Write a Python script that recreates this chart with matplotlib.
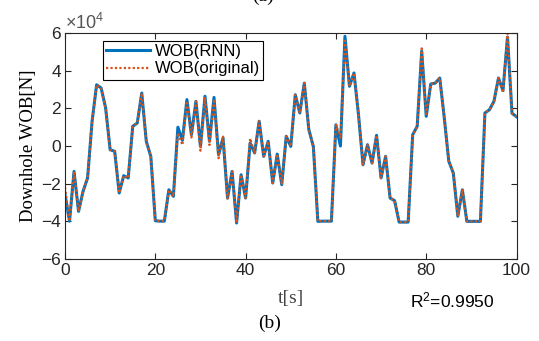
import numpy as np
import matplotlib.pyplot as plt

plt.rcParams['mathtext.fontset'] = 'custom'
plt.rcParams['mathtext.rm'] = 'Liberation Sans'
plt.rcParams['mathtext.it'] = 'Liberation Sans:italic'

# ----- data (x1e4 N) ----- #
t = np.arange(0, 101)
wob_orig = [-2.2, -4.0, -1.35, -3.48, -2.41, -1.70, 1.32, 3.26, 3.09, 2.02,
            -0.20, -0.28, -2.50, -1.58, -1.70, 1.05, 1.22, 2.82, 0.25, -0.55,
            -3.98, -4.0, -4.0, -2.33, -2.68, 0.70, 0.05, 2.40, 0.45, 2.38,
            -0.25, 2.60, 0.05, 2.50, -0.65, 0.50, -2.80, -1.35, -4.10, -1.53,
            -2.77, 0.40, -0.37, 1.32, -0.55, 0.25, -1.97, -0.43, -2.00, 0.52,
            -0.02, 2.73, 1.76, 3.35, 0.87, -0.02, -4.01, -4.0, -4.0, -4.0,
            1.13, 0.45, 5.60, 3.18, 3.89, 1.67, -1.00, 0.07, -0.91, 0.57,
            -1.70, -0.55, -2.77, -2.91, -4.05, -4.05, -4.05, 0.60, 1.05, 5.20,
            1.70, 3.30, 3.35, 3.62, 1.49, -0.81, -1.44, -3.74, -2.33, -4.01,
            -4.01, -4.01, -4.01, 1.76, 1.93, 2.38, 3.62, 2.85, 6.00, 1.74,
            1.56]
wob_rnn = [-2.6, -4.0, -1.35, -3.48, -2.41, -1.70, 1.32, 3.26, 3.09, 2.02,
           -0.20, -0.28, -2.50, -1.58, -1.70, 1.05, 1.22, 2.82, 0.25, -0.55,
           -3.98, -4.0, -4.0, -2.33, -2.68, 1.00, 0.30, 2.47, 0.60, 2.38,
           -0.02, 2.65, 0.25, 2.59, -0.46, 0.43, -2.77, -1.35, -4.10, -1.53,
           -2.77, 0.16, -0.37, 1.32, -0.55, 0.25, -1.97, -0.43, -2.06, 0.52,
           -0.02, 2.73, 1.76, 3.35, 0.87, -0.02, -4.01, -4.0, -4.0, -4.0,
           1.13, 0.00, 5.84, 3.18, 3.89, 1.67, -1.00, 0.07, -0.91, 0.57,
           -1.70, -0.55, -2.77, -2.91, -4.05, -4.05, -4.05, 0.60, 1.05, 5.05,
           1.58, 3.30, 3.35, 3.62, 1.49, -0.81, -1.44, -3.74, -2.33, -4.01,
           -4.01, -4.01, -4.01, 1.76, 1.93, 2.38, 3.62, 2.95, 5.80, 1.74,
           1.56]

fig = plt.figure(figsize=(5.39, 3.41), dpi=100)
ax = fig.add_axes([0.1206, 0.2413, 0.8377, 0.661])

ax.plot(t, wob_rnn, color='#0072BD', linewidth=2.2, label='WOB(RNN)')
ax.plot(t, wob_orig, color='#D95319', linewidth=1.6, linestyle=(0, (1, 1)),
        label='WOB(original)')

ax.set_xlim(0, 100)
ax.set_ylim(-6, 6)
ax.set_xticks([0, 20, 40, 60, 80, 100])
ax.set_yticks([-6, -4, -2, 0, 2, 4, 6])

gray = '#262626'
for s in ax.spines.values():
    s.set_color(gray)
    s.set_linewidth(0.8)
ax.tick_params(direction='in', top=True, right=True, length=4, width=0.8,
               colors=gray, labelsize=12.5, pad=3)
for lab in ax.get_xticklabels() + ax.get_yticklabels():
    lab.set_family('Liberation Sans')
ax.yaxis.set_major_formatter(plt.FuncFormatter(lambda v, p: f'{v:g}'.replace('-', '\u2212')))

ax.text(0.0, 1.0, '\u00d710$^{4}$', transform=ax.transAxes, ha='left', va='bottom',
        fontsize=13, color='#555555', family='Liberation Sans')

ax.set_ylabel('Downhole WOB[N]', family='Liberation Serif', fontsize=13.5, labelpad=3)
ax.set_xlabel('t[s]', family='Liberation Serif', fontsize=14, labelpad=9, color='#444444')

leg = ax.legend(loc='upper left', bbox_to_anchor=(0.084, 0.968), fancybox=False,
                edgecolor='black', framealpha=1, prop={'family': 'Liberation Sans', 'size': 12},
                handlelength=2.6, handletextpad=0.3, borderpad=0.2, labelspacing=0.15,
                borderaxespad=0)
leg.get_frame().set_linewidth(0.8)

fig.text(0.84, 0.118, 'R$^2$=0.9950', ha='center', va='center', fontsize=12.5,
         family='Liberation Sans')
fig.text(0.5, 0.052, '(b)', ha='center', va='center', fontsize=14, family='Liberation Serif')
fig.text(0.488, 1.01, '(a)', ha='center', va='center', fontsize=14, family='Liberation Serif')

fig.savefig('out.png', dpi=100)
